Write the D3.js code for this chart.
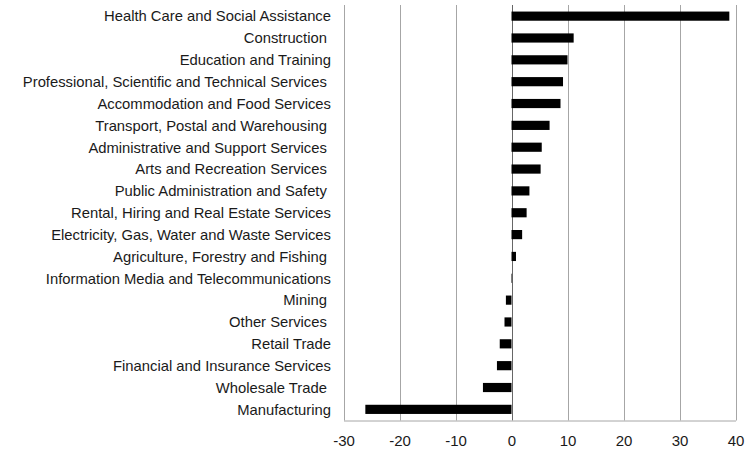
<!DOCTYPE html>
<html><head><meta charset="utf-8">
<script src="https://cdn.jsdelivr.net/npm/d3@7"></script>
<style>
html,body{margin:0;padding:0;background:#fff;}
text{font-family:"Liberation Sans",Arial,sans-serif;fill:#1a1a1a;white-space:pre;}
</style></head>
<body>
<svg id="c" width="753" height="451"></svg>
<script>
const categories = [
  "Health Care and Social Assistance",
  "Construction ",
  "Education and Training",
  "Professional, Scientific and Technical Services ",
  "Accommodation and Food Services",
  "Transport, Postal and Warehousing ",
  "Administrative and Support Services ",
  "Arts and Recreation Services ",
  "Public Administration and Safety ",
  "Rental, Hiring and Real Estate Services",
  "Electricity, Gas, Water and Waste Services",
  "Agriculture, Forestry and Fishing ",
  "Information Media and Telecommunications",
  "Mining ",
  "Other Services ",
  "Retail Trade",
  "Financial and Insurance Services",
  "Wholesale Trade ",
  "Manufacturing"
];
const values = [38.9, 11.1, 10.0, 9.2, 8.75, 6.8, 5.4, 5.2, 3.2, 2.7, 1.9, 0.8, 0.1, -1.0, -1.25, -2.1, -2.6, -5.1, -26.1];
const tickValues = [-30, -20, -10, 0, 10, 20, 30, 40];

(function () {
const svg = d3.select("#c");
const mLeft = 343.5, mRight = 735.5, mTop = 5, mBottom = 420.5;
const x = d3.scaleLinear().domain([-30, 40]).range([mLeft, mRight]);
const y = d3.scaleBand().domain(categories).range([mTop, mBottom]).paddingInner(0.58).paddingOuter(0.3);

// gridlines
svg.append("g").selectAll("line").data(tickValues).join("line")
  .attr("x1", d => Math.round(x(d)) + 0.5).attr("x2", d => Math.round(x(d)) + 0.5)
  .attr("y1", mTop).attr("y2", mBottom)
  .attr("stroke", d => d === 0 ? "#666" : "#a6a6a6").attr("stroke-width", 1);

// bottom axis
const ax = svg.append("g").attr("transform", `translate(0,${mBottom})`)
  .call(d3.axisBottom(x).tickValues(tickValues).tickSize(0).tickPadding(15).tickFormat(d => String(d)));
ax.select(".domain").attr("stroke", "#a6a6a6");
ax.selectAll("text").attr("font-size", 15).attr("fill", "#1a1a1a").style("font-family", "Liberation Sans, Arial, sans-serif");

// bars
svg.append("g").selectAll("rect").data(values).join("rect")
  .attr("x", d => x(Math.min(0, d)))
  .attr("width", d => Math.abs(x(d) - x(0)))
  .attr("y", (d, i) => y(categories[i]))
  .attr("height", y.bandwidth())
  .attr("fill", "#000");

// category labels
svg.append("g").selectAll("text").data(categories).join("text")
  .attr("x", 331)
  .attr("y", d => y(d) + y.bandwidth() / 2)
  .attr("dy", "0.36em")
  .attr("text-anchor", "end")
  .attr("font-size", 14.8)
  .text(d => d);
})();
</script>
</body></html>
